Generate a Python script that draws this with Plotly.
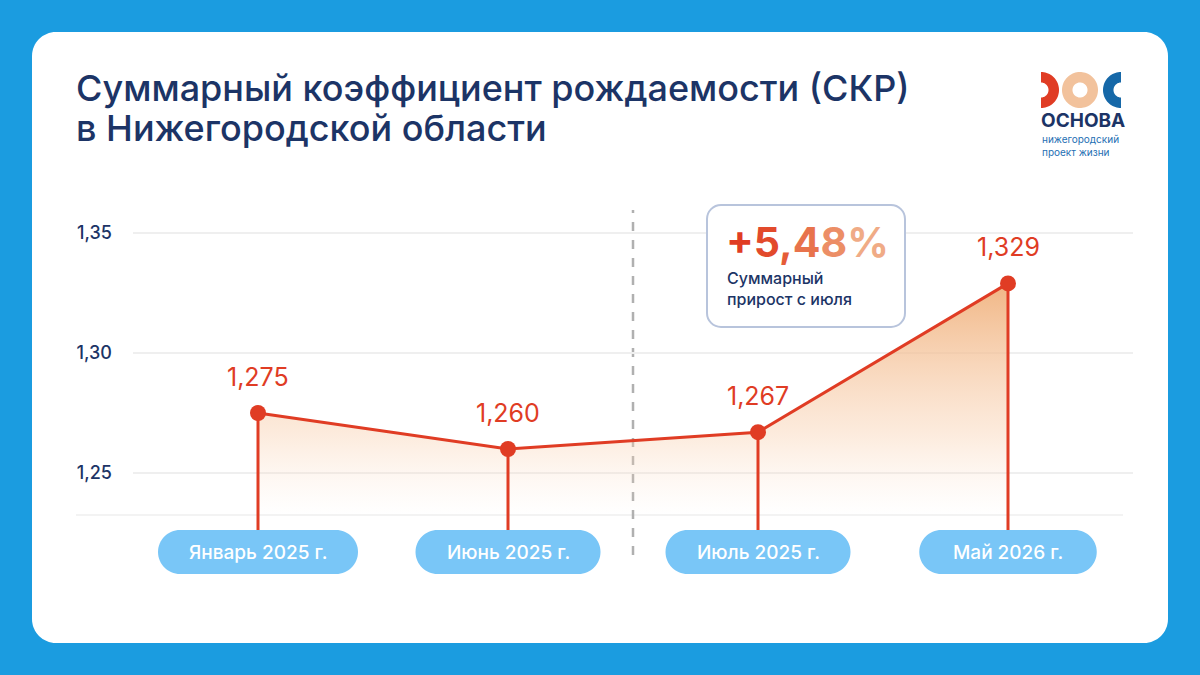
import numpy as np
import plotly.graph_objects as go

# Данные
categories = ["Январь 2025 г.", "Июнь 2025 г.", "Июль 2025 г.", "Май 2026 г."]
values = [1.275, 1.260, 1.267, 1.329]
y_ticks = [1.25, 1.30, 1.35]
growth_text = "+5,48%"
growth_caption = "Суммарный<br>прирост с июля"
title_lines = ["Суммарный коэффициент рождаемости (СКР)",
               "в Нижегородской области"]

# Цвета
BG = "#1b9ce0"
NAVY = "#1c3466"
RED = "#e03c24"
PILL = "#79c6f7"
GRID = "#efefef"

# Геометрия области построения (пиксели)
L, R, T, B = 133, 1133, 209, 560
y_range = [1.21375, 1.36]
base = 1.2325


def px(x):
    return (x - L) / (R - L)


def py(y):
    return (B - y) / (B - T)


def rounded_rect(w, h, r):
    k = 0.5523 * r
    x0, x1, y0, y1 = -w / 2, w / 2, -h / 2, h / 2
    return (f"M {x0 + r},{y0} L {x1 - r},{y0} "
            f"C {x1 - r + k},{y0} {x1},{y0 + r - k} {x1},{y0 + r} "
            f"L {x1},{y1 - r} "
            f"C {x1},{y1 - r + k} {x1 - r + k},{y1} {x1 - r},{y1} "
            f"L {x0 + r},{y1} "
            f"C {x0 + r - k},{y1} {x0},{y1 - r + k} {x0},{y1 - r} "
            f"L {x0},{y0 + r} "
            f"C {x0},{y0 + r - k} {x0 + r - k},{y0} {x0 + r},{y0} Z")


def ring(cx, ro, ri, a0, a1, n=40):
    a = np.radians(np.linspace(a0, a1, n))
    outer = [(cx + ro * np.cos(t), ro * np.sin(t)) for t in a]
    inner = [(cx + ri * np.cos(t), ri * np.sin(t)) for t in a[::-1]]
    pts = outer + inner
    return "M " + " L ".join(f"{x:.2f},{y:.2f}" for x, y in pts) + " Z"


x = list(range(len(categories)))
labels = [f"{v:.3f}".replace(".", ",") for v in values]

fig = go.Figure()

# Заливка под линией
fig.add_trace(go.Scatter(x=x, y=[base] * len(x), mode="lines",
                         line=dict(width=0), hoverinfo="skip", showlegend=False))
fig.add_trace(go.Scatter(
    x=x, y=values, mode="lines", line=dict(color=RED, width=3),
    fill="tonexty",
    fillgradient=dict(type="vertical", start=base, stop=max(values),
                      colorscale=[[0, "rgba(252,222,200,0)"],
                                  [0.35, "rgba(248,205,170,0.4)"],
                                  [1, "rgba(240,178,126,0.95)"]]),
    hoverinfo="skip", showlegend=False))

# Вертикальные линии к подписям
drop_x, drop_y = [], []
for i, v in zip(x, values):
    drop_x += [i, i, None]
    drop_y += [v, y_range[0], None]
fig.add_trace(go.Scatter(x=drop_x, y=drop_y, mode="lines",
                         line=dict(color=RED, width=3),
                         hoverinfo="skip", showlegend=False))

# Точки
fig.add_trace(go.Scatter(x=x, y=values, mode="markers",
                         marker=dict(color=RED, size=16),
                         hoverinfo="skip", showlegend=False))

shapes = []
annotations = []

# Белая карточка
shapes.append(dict(type="path", xref="paper", yref="paper",
                   xsizemode="pixel", ysizemode="pixel",
                   xanchor=px(600), yanchor=py(337.5),
                   path=rounded_rect(1136, 611, 24),
                   fillcolor="white", line=dict(width=0), layer="below"))

# Нижняя линия
shapes.append(dict(type="line", xref="paper", yref="y",
                   x0=px(76), x1=px(1123), y0=base, y1=base,
                   line=dict(color=GRID, width=1.5), layer="below"))

# Пунктирный разделитель
shapes.append(dict(type="line", xref="x", yref="paper",
                   x0=1.5, x1=1.5, y0=py(555), y1=py(210),
                   line=dict(color="#b0b0b0", width=2.5, dash="dash"),
                   layer="below"))

# Подписи значений
for i, v, t in zip(x, values, labels):
    annotations.append(dict(x=i, y=v, text=t, showarrow=False, yshift=36,
                            font=dict(family="Inter", size=25, color=RED)))

# Плашки категорий
for i, c in zip(x, categories):
    w = 7.5 * len(c) + 95
    shapes.append(dict(type="path", xref="x", yref="paper",
                       xsizemode="pixel", ysizemode="pixel",
                       xanchor=i, yanchor=py(552),
                       path=rounded_rect(w, 44, 22),
                       fillcolor=PILL, line=dict(width=0), layer="above"))
    annotations.append(dict(x=i, y=py(552), xref="x", yref="paper", text=c,
                            showarrow=False, yanchor="middle",
                            font=dict(family="Inter", size=19, color="white",
                                      weight=500)))

# Блок с приростом
shapes.append(dict(type="path", xref="paper", yref="paper",
                   xsizemode="pixel", ysizemode="pixel",
                   xanchor=px(806), yanchor=py(266),
                   path=rounded_rect(198, 122, 14),
                   fillcolor="white", line=dict(color="#b8c4dc", width=2),
                   layer="above"))
grad = ["#e03c24", "#e24a2c", "#e55c38", "#e8734c", "#ec8e66", "#f0ab86"]
growth_html = "".join(f"<span style='color:{col}'>{ch}</span>"
                      for ch, col in zip(growth_text, grad))
annotations.append(dict(x=px(724), y=py(242), xref="paper", yref="paper",
                        xanchor="left", yanchor="middle", text=growth_html,
                        showarrow=False,
                        font=dict(family="Inter", size=41, weight=700)))
annotations.append(dict(x=px(725), y=py(266), xref="paper", yref="paper",
                        xanchor="left", yanchor="top", align="left",
                        text=growth_caption, showarrow=False,
                        font=dict(family="Inter", size=16, color=NAVY,
                                  weight=500)))

# Заголовок
for line, yc in zip(title_lines, [88, 128]):
    annotations.append(dict(x=px(74), y=py(yc), xref="paper", yref="paper",
                            xanchor="left", yanchor="middle", align="left",
                            text=line, showarrow=False,
                            font=dict(family="Inter", size=36, color=NAVY,
                                      weight=500)))

# Логотип
logo = [(ring(-39, 18, 7.5, -90, 90), "#e03c24"),
        (ring(0, 18, 7.5, 0, 360, 80), "#f2c29c"),
        (ring(41, 18, 7.5, 90, 270), "#1668a8")]
for path, col in logo:
    shapes.append(dict(type="path", xref="paper", yref="paper",
                       xsizemode="pixel", ysizemode="pixel",
                       xanchor=px(1080), yanchor=py(90), path=path,
                       fillcolor=col, line=dict(width=0), layer="above"))
annotations.append(dict(x=px(1039), y=py(121), xref="paper", yref="paper",
                        xanchor="left", yanchor="middle", text="ОСНОВА",
                        showarrow=False,
                        font=dict(family="Inter", size=19, color=NAVY,
                                  weight=700)))
annotations.append(dict(x=px(1040), y=py(131), xref="paper", yref="paper",
                        xanchor="left", yanchor="top", align="left",
                        text="нижегородский<br>проект жизни", showarrow=False,
                        font=dict(family="Inter", size=10, color="#1e6fb3")))

fig.update_layout(
    width=1200, height=675,
    margin=dict(l=L, r=1200 - R, t=T, b=675 - B),
    paper_bgcolor=BG, plot_bgcolor="rgba(0,0,0,0)",
    separators=", ",
    showlegend=False,
    shapes=shapes, annotations=annotations,
    font=dict(family="Inter", color=NAVY),
)
fig.update_xaxes(range=[-0.5, len(categories) - 0.5], showgrid=False,
                 zeroline=False, showticklabels=False, fixedrange=True)
fig.update_yaxes(range=y_range, tickvals=y_ticks, tickformat=".2f",
                 showgrid=True, gridcolor=GRID, gridwidth=1.5,
                 zeroline=False, ticklabelstandoff=20,
                 tickfont=dict(family="Inter", size=18, color=NAVY,
                               weight=500),
                 fixedrange=True)

fig.write_html("out.html", config={"displayModeBar": False},
               post_script="document.body.style.margin='0';")
